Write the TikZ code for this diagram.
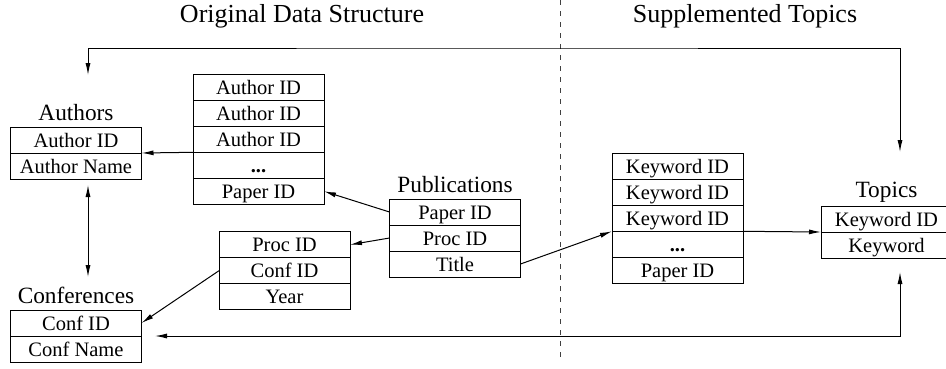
\documentclass[tikz,border=0pt]{standalone}
\usepackage{fontspec}
\setmainfont{Liberation Serif}
\usetikzlibrary{positioning,arrows.meta}

\begin{document}
\begin{tikzpicture}[x=1pt,y=-1pt,>={Latex[length=12pt,width=5pt]},line width=1pt,
    row/.style={draw, minimum width=131pt, minimum height=26pt, inner sep=0pt, outer sep=0pt,
        text height=17pt, text depth=3pt, font=\fontsize{20.5}{24}\selectfont},
    tbl title/.style={inner sep=0pt, font=\fontsize{23.3}{28}\selectfont},
    sec title/.style={inner sep=0pt, anchor=base, font=\fontsize{26}{30}\selectfont}]

    \useasboundingbox (0,0) rectangle (946,368);

    \node[sec title] (orig) at (302,22) {Original Data Structure};
    \node[sec title] (supp) at (745,22) {Supplemented Topics};
    \coordinate (div top) at (560,0);
    \coordinate (div bot) at (560,362);
    \draw[black!75, dash pattern=on 5pt off 6pt] (div top) -- (div bot);

    % authors
    \node[row] (a1) at (76,140) {Author ID};
    \node[row, below=0pt of a1] (a2) {Author Name};
    \node[tbl title, above=7pt of a1, anchor=base] (at) {Authors};

    % author list
    \node[row] (l1) at (258.5,87.3) {Author ID};
    \node[row, below=0pt of l1] (l2) {Author ID};
    \node[row, below=0pt of l2] (l3) {Author ID};
    \node[row, below=0pt of l3] (l4) {\textbf{...}};
    \node[row, below=0pt of l4] (l5) {Paper ID};

    % conferences
    \node[row] (c1) at (76,323) {Conf ID};
    \node[row, below=0pt of c1] (c2) {Conf Name};
    \node[tbl title, above=7pt of c1, anchor=base] (ct) {Conferences};

    % proceedings
    \node[row] (pr1) at (284.5,244.7) {Proc ID};
    \node[row, below=0pt of pr1] (pr2) {Conf ID};
    \node[row, below=0pt of pr2] (pr3) {Year};

    % publications
    \node[row] (p1) at (455,212) {Paper ID};
    \node[row, below=0pt of p1] (p2) {Proc ID};
    \node[row, below=0pt of p2] (p3) {Title};
    \node[tbl title, above=7pt of p1, anchor=base] (pt) {Publications};

    % keyword list
    \node[row] (k1) at (677.5,166.3) {Keyword ID};
    \node[row, below=0pt of k1] (k2) {Keyword ID};
    \node[row, below=0pt of k2] (k3) {Keyword ID};
    \node[row, below=0pt of k3] (k4) {\textbf{...}};
    \node[row, below=0pt of k4] (k5) {Paper ID};

    % topics
    \node[row] (t1) at (886.5,219) {Keyword ID};
    \node[row, below=0pt of t1] (t2) {Keyword};
    \node[tbl title, above=8.5pt of t1, anchor=base] (tt) {Topics};

    \draw[->] (l3.south west) -- (a1.south east);
    \draw[->] (p1.west) -- (l5.east);
    \draw[->] (p2.west) -- (pr1.east);
    \draw[->] (pr2.west) -- (c1.east);
    \draw[->] (p3.east) -- (k3.south west);
    \draw[->] (k3.south east) -- (t1.south west);

    \coordinate (a down) at (88,185);
    \coordinate (c up) at (88,277);
    \draw[<->] (a down) -- (c up);

    \coordinate (a top) at (88,75);
    \coordinate (ridge) at (500,48);
    \coordinate (t top) at (900,152);
    \draw[<->] (a top) |- (ridge) -| (t top);

    \coordinate (c right) at (155,336);
    \coordinate (t bot) at (900,272);
    \draw[<->] (c right) -| (t bot);
\end{tikzpicture}
\end{document}
